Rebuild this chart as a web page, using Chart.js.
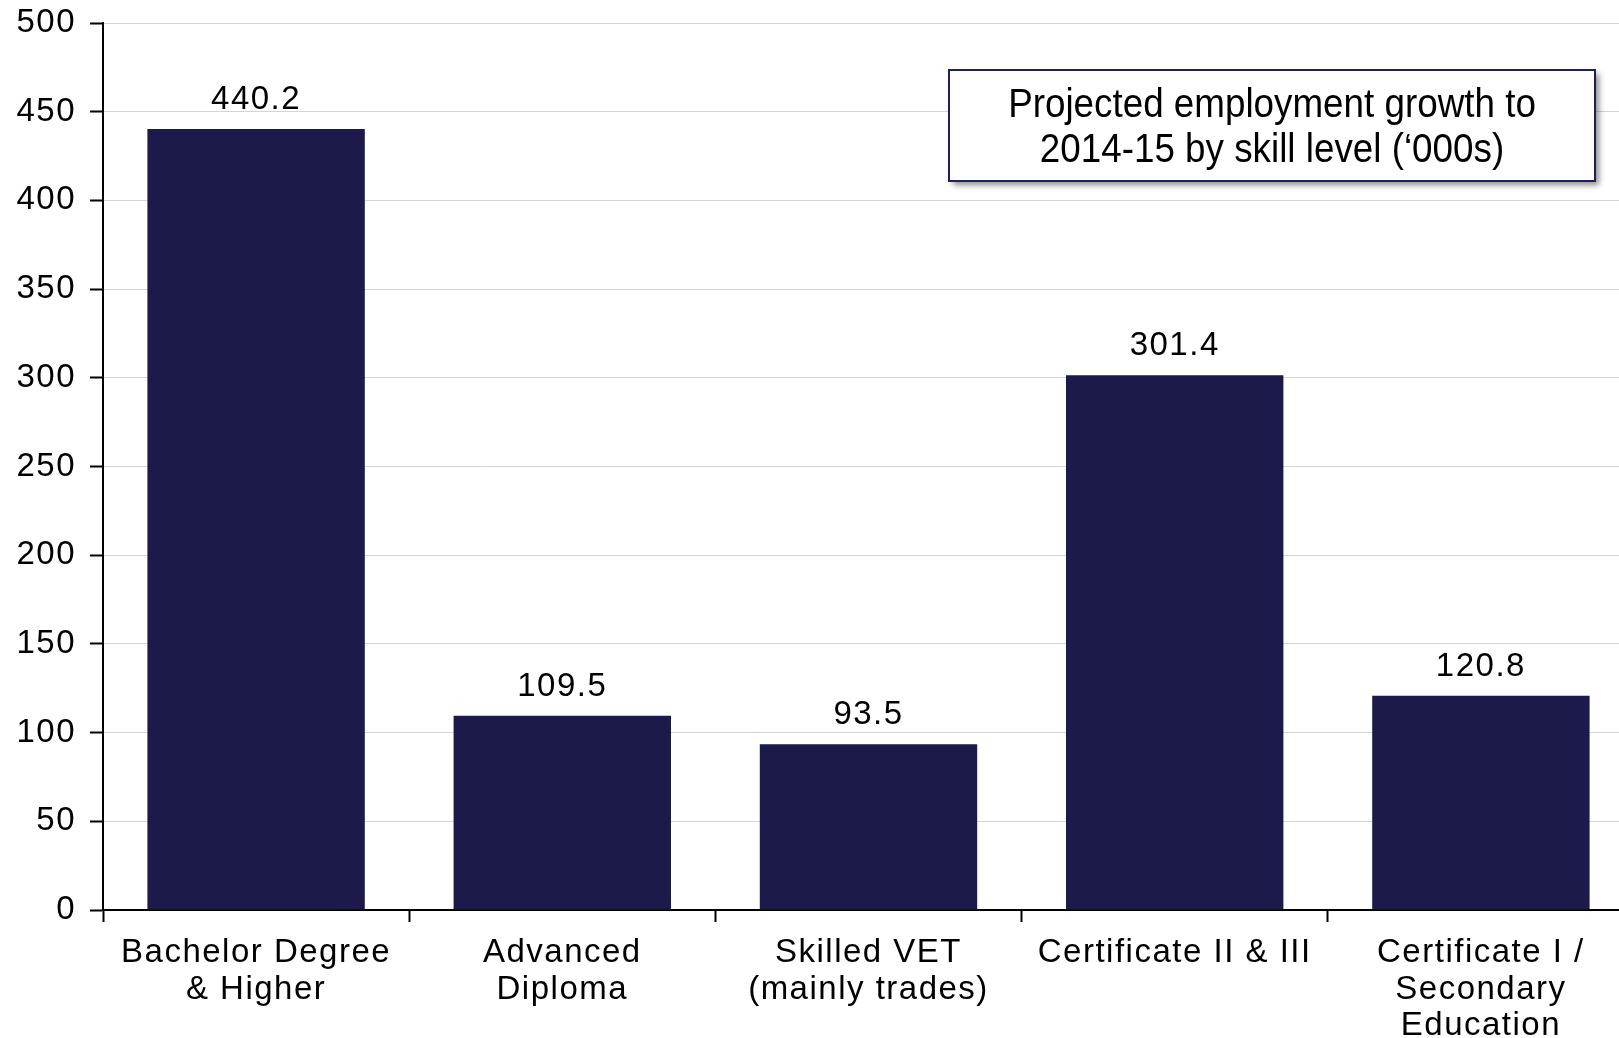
<!DOCTYPE html>
<html lang="en">
<head>
    <meta charset="UTF-8">
    <script src="https://cdn.jsdelivr.net/npm/chart.js@4.4.1/dist/chart.umd.min.js"></script>
    <title>Projected employment growth</title>
    <style>
        body {
            margin: 0;
            overflow: hidden;
            background: #fff;
        }
        #wrap {
            width: 1634px;
            height: 1038px;
        }
    </style>
</head>
<body>
<div id="wrap"><canvas id="myBar"></canvas></div>
<script>
    // data
    const skillLevels = [
        ["Bachelor Degree", "& Higher"],
        ["Advanced", "Diploma"],
        ["Skilled VET", "(mainly trades)"],
        ["Certificate II & III"],
        ["Certificate I /", "Secondary", "Education"]
    ];
    const growthValues = [440.2, 109.5, 93.5, 301.4, 120.8];
    const titleLines = ["Projected employment growth to", "2014-15 by skill level (\u2018000s)"];

    const barColor = '#1b1a4a';
    const labelFont = '"Liberation Sans", Arial, sans-serif';

    // the original text looks a bit stretched, so space letters out a little
    const spacing = {
        id: 'spacing',
        beforeDraw(chart) {
            chart.ctx.letterSpacing = '1.5px';
        }
    };

    // value labels above bars
    const valueLabels = {
        id: 'valueLabels',
        afterDatasetsDraw(chart) {
            const ctx = chart.ctx;
            const meta = chart.getDatasetMeta(0);
            ctx.save();
            ctx.font = '33px ' + labelFont;
            ctx.fillStyle = '#000';
            ctx.textAlign = 'center';
            ctx.textBaseline = 'alphabetic';
            meta.data.forEach((bar, i) => {
                ctx.fillText(growthValues[i].toFixed(1), bar.x, bar.y - 20);
            });
            ctx.restore();
        }
    };

    // the boxed title top right
    const titleBox = {
        id: 'titleBox',
        afterDraw(chart) {
            const ctx = chart.ctx;
            const x = 949, y = 70, w = 646, h = 111;
            ctx.save();
            ctx.letterSpacing = '0px';
            ctx.shadowColor = 'rgba(0,0,0,0.45)';
            ctx.shadowBlur = 6;
            ctx.shadowOffsetX = 4;
            ctx.shadowOffsetY = 4;
            ctx.fillStyle = '#fff';
            ctx.fillRect(x, y, w, h);
            ctx.restore();
            ctx.save();
            ctx.letterSpacing = '0px';
            ctx.strokeStyle = '#1a2060';
            ctx.lineWidth = 2;
            ctx.strokeRect(x, y, w, h);
            ctx.font = '40px ' + labelFont;
            ctx.fillStyle = '#000';
            ctx.textAlign = 'center';
            ctx.textBaseline = 'middle';
            // condensed look
            ctx.translate(x + w / 2, 0);
            ctx.scale(0.92, 1);
            ctx.fillText(titleLines[0], 0, 106);
            ctx.fillText(titleLines[1], 0, 151);
            ctx.restore();
        }
    };

    var myBar = new Chart(document.getElementById("myBar"), {
        type: 'bar',
        data: {
            labels: skillLevels,
            datasets: [{
                data: growthValues,
                backgroundColor: barColor,
                borderWidth: 0,
                categoryPercentage: 1.0,
                barPercentage: 0.71
            }]
        },
        options: {
            responsive: true,
            maintainAspectRatio: false,
            animation: false,
            layout: {
                padding: { top: 23, right: 0, left: 0, bottom: 0 }
            },
            plugins: {
                legend: { display: false },
                tooltip: { enabled: false }
            },
            scales: {
                x: {
                    afterFit: s => { s.height = 128; },
                    grid: {
                        display: true,
                        drawOnChartArea: false,
                        drawTicks: true,
                        tickLength: 12,
                        tickColor: '#000',
                        tickWidth: 2,
                        offset: true
                    },
                    border: { color: '#000', width: 2 },
                    ticks: {
                        color: '#000',
                        padding: 13,
                        maxRotation: 0,
                        autoSkip: false,
                        font: { family: labelFont, size: 33, lineHeight: 1.1 }
                    }
                },
                y: {
                    min: 0,
                    max: 500,
                    afterFit: s => {
                        s.width = 103;
                        s.paddingTop = 0;
                        s.paddingBottom = 0;
                    },
                    grid: {
                        color: '#d4d4d4',
                        lineWidth: 1,
                        drawTicks: true,
                        tickLength: 13,
                        tickColor: '#000',
                        tickWidth: 2
                    },
                    border: { color: '#000', width: 2 },
                    ticks: {
                        stepSize: 50,
                        color: '#000',
                        padding: 14,
                        font: { family: labelFont, size: 33 }
                    }
                }
            }
        },
        plugins: [spacing, valueLabels, titleBox]
    });
</script>
</body>
</html>
